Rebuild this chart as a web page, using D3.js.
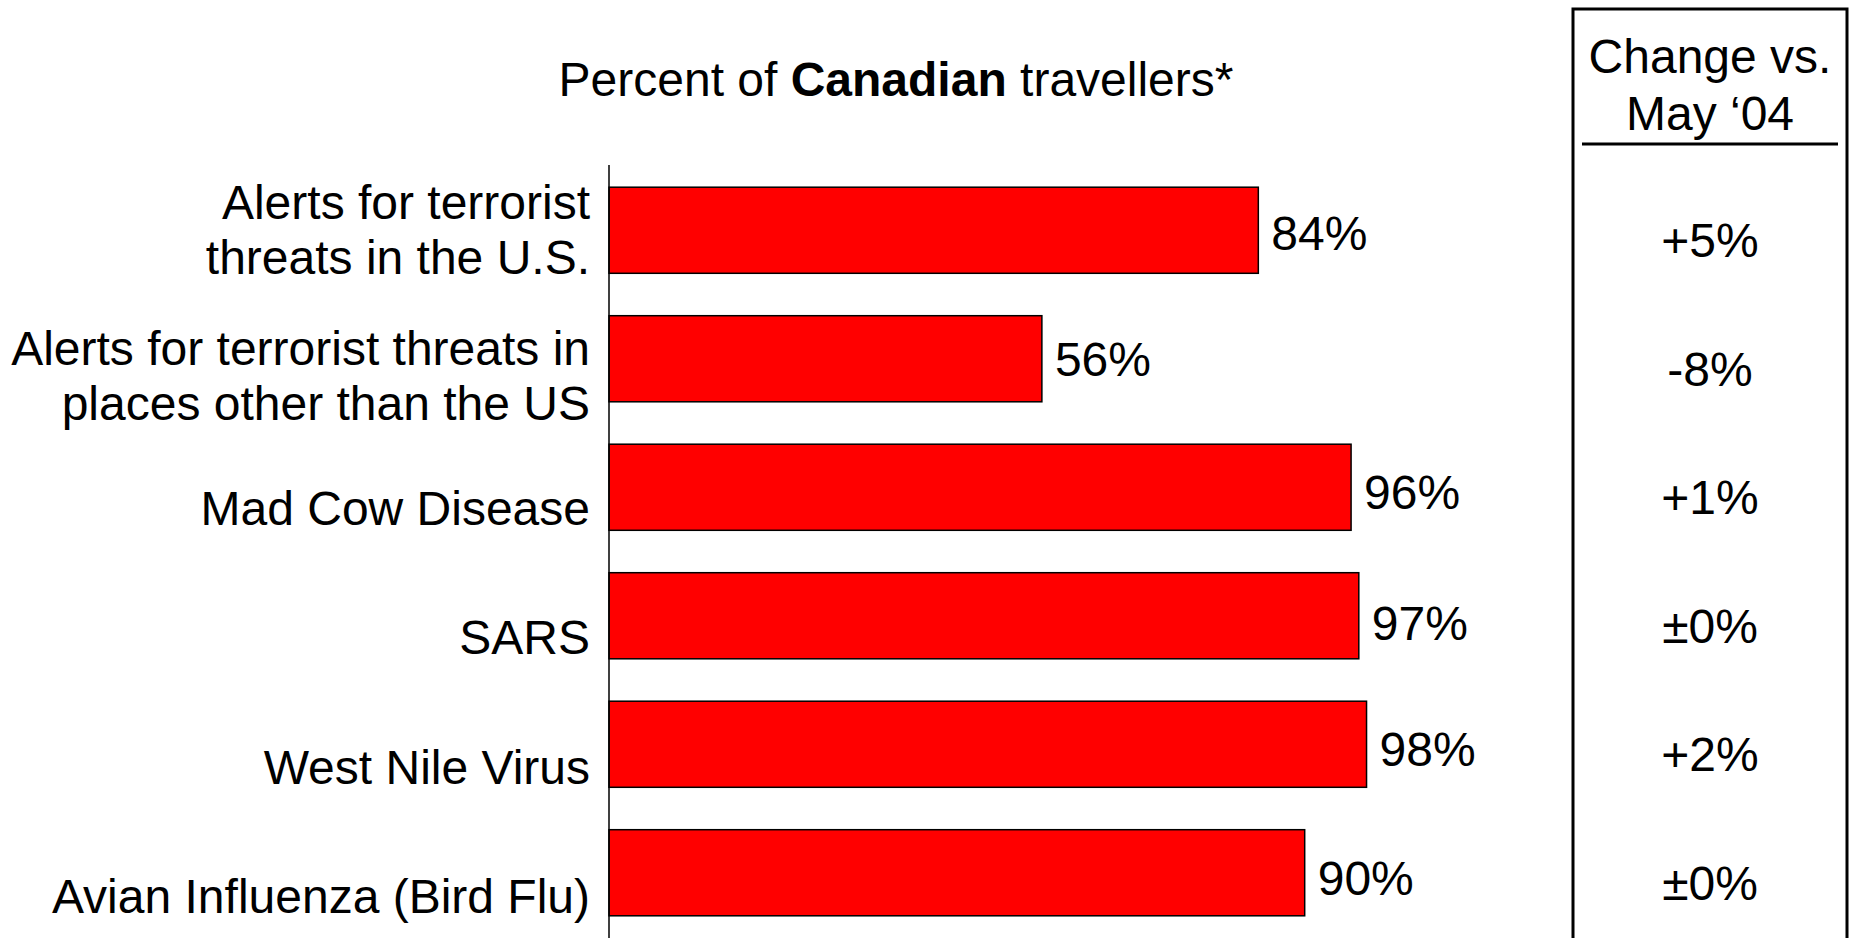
<!DOCTYPE html>
<html>
<head>
<meta charset="utf-8">
<script src="https://cdn.jsdelivr.net/npm/d3@7"></script>
<style>
  html, body { margin: 0; padding: 0; background: #fff; }
  svg { display: block; }
  text { font-family: "Liberation Sans", Arial, sans-serif; fill: #000; }
</style>
</head>
<body>
<svg id="chart" width="1851" height="938"></svg>
<script>
// ---- data ----
const categories = [
  ["Alerts for terrorist", "threats in the U.S."],
  ["Alerts for terrorist threats in", "places other than the US"],
  ["Mad Cow Disease"],
  ["SARS"],
  ["West Nile Virus"],
  ["Avian Influenza (Bird Flu)"]
];
const percentValues = [84, 56, 96, 97, 98, 90];
const changeLabels = ["+5%", "-8%", "+1%", "\u00B10%", "+2%", "\u00B10%"];
const titleParts = ["Percent of ", "Canadian", " travellers*"];
const changeHeader = ["Change vs.", "May \u201804"];

// ---- layout ----
const W = 1851, H = 938;
const svg = d3.select("#chart");
const FS = 48;

const x = d3.scaleLinear().domain([0, 100]).range([609, 1382]);
const y = d3.scaleBand()
  .domain(d3.range(categories.length))
  .range([166, 937])
  .paddingInner(0.33)
  .paddingOuter(0.165);

// title
const title = svg.append("text")
  .attr("x", 896).attr("y", 96)
  .attr("text-anchor", "middle")
  .style("font-size", FS + "px");
titleParts.forEach((t, i) => {
  title.append("tspan").text(t).style("font-weight", i === 1 ? "bold" : "normal");
});

// bars
svg.append("g").selectAll("rect")
  .data(percentValues)
  .join("rect")
  .attr("x", x(0))
  .attr("y", (d, i) => y(i))
  .attr("width", d => x(d) - x(0))
  .attr("height", y.bandwidth())
  .attr("fill", "#FF0000")
  .attr("stroke", "#000")
  .attr("stroke-width", 1.5);

// axis line (y axis without ticks)
const yAxis = d3.axisLeft(y).tickSize(0).tickFormat("");
const axisG = svg.append("g").attr("transform", `translate(${x(0)},0)`).call(yAxis);
axisG.select(".domain").attr("d", `M0,165V${H}`).attr("stroke", "#000").attr("stroke-width", 1.5);

// category labels
const lastBaselineOffset = [44, 61, 38, 38, 40, 40];
const lineH = 55;
const catG = svg.append("g");
categories.forEach((lines, i) => {
  const cy = y(i) + y.bandwidth() / 2;
  const base = cy + lastBaselineOffset[i] - (lines.length - 1) * lineH;
  const t = catG.append("text")
    .attr("text-anchor", "end")
    .style("font-size", FS + "px");
  lines.forEach((ln, j) => {
    t.append("tspan").attr("x", 590).attr("y", base + j * lineH).text(ln);
  });
});

// value labels
const valueDy = [20, 17, 22, 24, 22, 22];
svg.append("g").selectAll("text")
  .data(percentValues)
  .join("text")
  .attr("x", d => x(d) + 13)
  .attr("y", (d, i) => y(i) + y.bandwidth() / 2 + valueDy[i])
  .style("font-size", FS + "px")
  .text(d => d + "%");

// change panel
const panel = svg.append("g");
panel.append("path")
  .attr("d", `M1573,${H + 5}V9H1847V${H + 5}`)
  .attr("fill", "none").attr("stroke", "#000").attr("stroke-width", 3);
panel.append("line")
  .attr("x1", 1582).attr("x2", 1838).attr("y1", 144).attr("y2", 144)
  .attr("stroke", "#000").attr("stroke-width", 3);
changeHeader.forEach((t, i) => {
  panel.append("text")
    .attr("x", 1710).attr("y", 73 + i * 57)
    .attr("text-anchor", "middle")
    .style("font-size", FS + "px")
    .text(t);
});
panel.selectAll("text.chg")
  .data(changeLabels)
  .join("text")
  .attr("class", "chg")
  .attr("x", 1710)
  .attr("y", (d, i) => y(i) + y.bandwidth() / 2 + 27)
  .attr("text-anchor", "middle")
  .style("font-size", FS + "px")
  .text(d => d);
</script>
</body>
</html>
